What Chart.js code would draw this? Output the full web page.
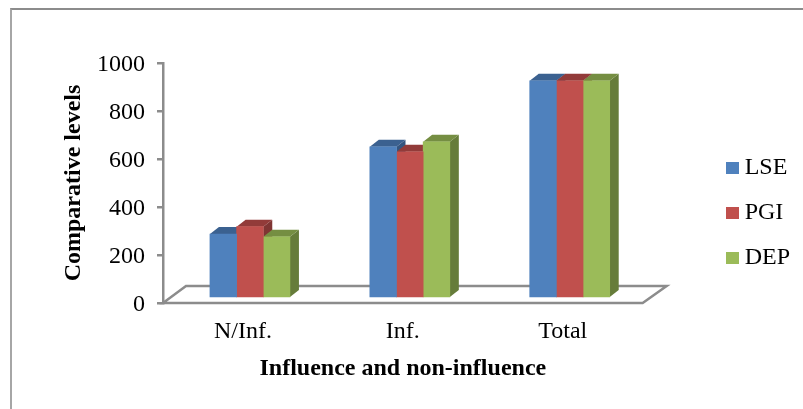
<!DOCTYPE html>
<html>
<head>
<meta charset="utf-8">
<script src="https://cdn.jsdelivr.net/npm/chart.js@4.4.1/dist/chart.umd.min.js"></script>
<style>
  html, body { margin: 0; background: #fff; overflow: hidden; }
  #frame { position: absolute; left: 10px; top: 8px; width: 803px; height: 409px; border-left: 2px solid #a6a6a6; border-top: 2px solid #8c8c8c; }
  canvas { position: absolute; left: 0; top: 0; }
</style>
</head>
<body>
<div id="frame"></div>
<canvas id="chart" width="803" height="409"></canvas>
<script>
const categories = ["N/Inf.", "Inf.", "Total"]
const lse = [262, 626, 901]
const pgi = [293, 605, 901]
const dep = [251, 647, 901]

const serif = "'Liberation Serif', 'Times New Roman', serif"
const axisGrey = "#8c8c8c"

const toPoints = values => values.map((y, x) => ({ x, y }))

// legend swatch, a canvas so the text can sit closer than chart.js would put it
function swatch(color) {
  const c = document.createElement("canvas")
  c.width = 13
  c.height = 12
  const g = c.getContext("2d")
  g.fillStyle = color
  g.fillRect(0, 0, 13, 12)
  return c
}

// fake 3D: floor, then side and top faces of every bar, left series first.
// the flat fronts are drawn by chart.js on top of all that
const depth3d = {
  id: "depth3d",
  beforeDatasetsDraw(chart) {
    const { ctx } = chart
    const x = chart.scales.x, y = chart.scales.y
    const l = x.left, r = x.right, b = y.getPixelForValue(0)
    ctx.save()
    ctx.strokeStyle = axisGrey
    ctx.lineWidth = 2.5
    ctx.beginPath()
    ctx.moveTo(l, b)
    ctx.lineTo(l + 23, b - 17)
    ctx.lineTo(r + 24, b - 17)
    ctx.lineTo(r, b)
    ctx.closePath()
    ctx.stroke()

    const dx = 9, dy = 7
    chart.data.datasets.forEach((ds, i) => {
      chart.getDatasetMeta(i).data.forEach(bar => {
        const left = bar.x - bar.width / 2, right = bar.x + bar.width / 2
        ctx.fillStyle = ds.sideColor
        ctx.beginPath()
        ctx.moveTo(right, bar.y)
        ctx.lineTo(right + dx, bar.y - dy)
        ctx.lineTo(right + dx, bar.base - dy)
        ctx.lineTo(right, bar.base)
        ctx.fill()
        ctx.fillStyle = ds.topColor
        ctx.beginPath()
        ctx.moveTo(left, bar.y)
        ctx.lineTo(left + dx, bar.y - dy)
        ctx.lineTo(right + dx, bar.y - dy)
        ctx.lineTo(right, bar.y)
        ctx.fill()
      })
    })
    ctx.restore()
  }
}

new Chart(document.getElementById("chart"), {
  type: "bar",
  plugins: [depth3d],
  data: {
    labels: categories,
    datasets: [
      { label: "LSE", data: toPoints(lse), backgroundColor: "#4f81bd", topColor: "#3b6190", sideColor: "#34557f", pointStyle: swatch("#4f81bd"), xAxisID: "xBars", yAxisID: "yBars" },
      { label: "PGI", data: toPoints(pgi), backgroundColor: "#c0504d", topColor: "#923b39", sideColor: "#7f3533", pointStyle: swatch("#c0504d"), xAxisID: "xBars", yAxisID: "yBars" },
      { label: "DEP", data: toPoints(dep), backgroundColor: "#9bbb59", topColor: "#758e42", sideColor: "#667c3a", pointStyle: swatch("#9bbb59"), xAxisID: "xBars", yAxisID: "yBars" }
    ]
  },
  options: {
    responsive: false,
    animation: false,
    barThickness: 80 / 3,
    layout: { padding: { left: 59, top: 63, right: 3, bottom: 46 } },
    plugins: {
      tooltip: { enabled: false },
      legend: {
        position: "right",
        labels: {
          usePointStyle: true, pointStyleWidth: 1, padding: 21, color: "#000",
          font: { family: serif, size: 24 }
        }
      }
    },
    scales: {
      x: {
        type: "category",
        grid: { display: false, drawTicks: false },
        border: { display: false },
        ticks: { color: "#000", font: { family: serif, size: 24 }, padding: 14, maxRotation: 0 },
        title: { display: true, text: "Influence and non-influence", color: "#000", font: { family: serif, size: 24, weight: "bold" }, padding: { top: 0, bottom: -20 } },
        afterFit: s => { s.height = 60 }
      },
      // bars stand a little in front of the axis, as in the 3D original
      xBars: { type: "linear", display: false, offset: false, min: -0.5 - 7 / 160, max: 2.5 - 7 / 160 },
      y: {
        position: "left",
        min: 0, max: 1000,
        ticks: { stepSize: 200, color: "#000", font: { family: serif, size: 24 }, padding: 12, labelOffset: 2, callback: v => String(v) },
        grid: { drawOnChartArea: false, color: axisGrey, tickColor: axisGrey, tickLength: 6, lineWidth: 2.5 },
        border: { color: axisGrey, width: 2.5 },
        title: { display: true, text: "Comparative levels", color: "#000", font: { family: serif, size: 24, weight: "bold" }, padding: { top: 0, bottom: 8 } },
        afterFit: s => { s.width = 104 }
      },
      yBars: {
        position: "right",
        min: -25, max: 975,
        ticks: { display: false },
        grid: { display: false },
        border: { display: false },
        afterFit: s => { s.width = 68 }
      }
    }
  }
})
</script>
</body>
</html>
